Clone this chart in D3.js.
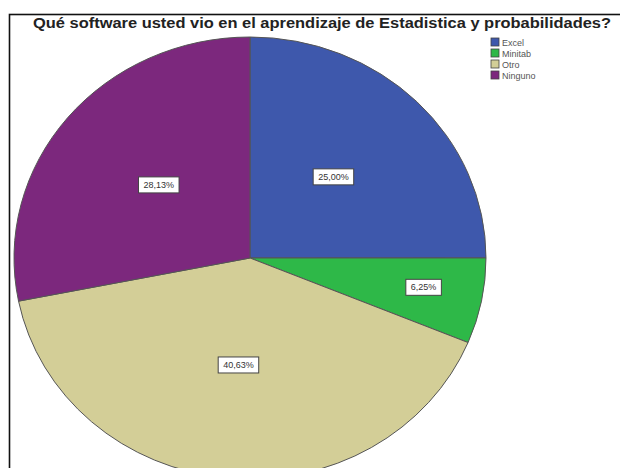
<!DOCTYPE html>
<html><head><meta charset="utf-8">
<script src="https://cdn.jsdelivr.net/npm/d3@7"></script>
<style>body{margin:0;background:#fff}svg{display:block}</style>
</head><body>
<script>
// Survey answers: software used while learning statistics
const categories = ["Excel", "Minitab", "Otro", "Ninguno"];
const percentages = [25.00, 6.25, 40.63, 28.13];
const sliceColors = ["#3e58ac", "#2eb848", "#d3ce97", "#7c287d"];
const chartTitle = "Qué software usted vio en el aprendizaje de Estadistica y probabilidades?";

const W = 620, H = 468;
const cx = 250, cy = 258, ry = 221, rx = 236;

const data = categories.map((c, i) => ({ name: c, value: percentages[i], color: sliceColors[i] }));

const svg = d3.select("body").append("svg").attr("width", W).attr("height", H);

// outer frame of the chart area
svg.append("rect")
  .attr("x", 9.5).attr("y", 14.5).attr("width", W).attr("height", H)
  .attr("fill", "none").attr("stroke", "#111").attr("stroke-width", 1.6);

// title
svg.append("text")
  .attr("x", 322).attr("y", 28)
  .attr("text-anchor", "middle")
  .attr("font-family", "Liberation Sans, Arial, sans-serif")
  .attr("font-weight", "bold").attr("font-size", 14)
  .attr("fill", "#222")
  .attr("textLength", 578).attr("lengthAdjust", "spacingAndGlyphs")
  .text(chartTitle);

const pie = d3.pie().sort(null).value(d => d.value);
const arcs = pie(data);
const arc = d3.arc().innerRadius(0).outerRadius(ry);

// pie is drawn slightly wider than tall
const pieG = svg.append("g").attr("transform", `translate(${cx},${cy}) scale(${rx / ry},1)`);
pieG.selectAll("path").data(arcs).join("path")
  .attr("d", arc)
  .attr("fill", d => d.data.color)
  .attr("stroke", "#555").attr("stroke-width", 1)
  .attr("vector-effect", "non-scaling-stroke");

// value labels in boxes
const fmt = v => v.toFixed(2).replace(".", ",") + "%";
const labelG = svg.append("g");
arcs.forEach(d => {
  const f = d.data.value < 10 ? 0.75 : 0.5;
  const [lx, ly] = d3.arc().innerRadius(ry * f).outerRadius(ry * f).centroid(d);
  const x = cx + lx * rx / ry, y = cy + ly - 3;
  const g = labelG.append("g").attr("transform", `translate(${x},${y})`);
  const rect = g.append("rect");
  const t = g.append("text")
    .attr("text-anchor", "middle").attr("dy", "0.35em")
    .attr("font-family", "Liberation Sans, Arial, sans-serif")
    .attr("font-size", 9).attr("fill", "#333")
    .text(fmt(d.data.value));
  const w = t.node().getComputedTextLength() + 10;
  rect.attr("x", -w / 2).attr("y", -8).attr("width", w).attr("height", 16)
    .attr("fill", "#fff").attr("stroke", "#444").attr("stroke-width", 1);
});

// legend
const leg = svg.append("g").attr("transform", "translate(491,38)");
const rows = leg.selectAll("g").data(data).join("g")
  .attr("transform", (d, i) => `translate(0,${i * 11})`);
rows.append("rect").attr("width", 8).attr("height", 8)
  .attr("fill", d => d.color).attr("stroke", "#444").attr("stroke-width", 0.8);
rows.append("text").attr("x", 11).attr("y", 7.5)
  .attr("font-family", "Liberation Sans, Arial, sans-serif")
  .attr("font-size", 9).attr("fill", "#555")
  .text(d => d.name);
</script>
</body></html>
